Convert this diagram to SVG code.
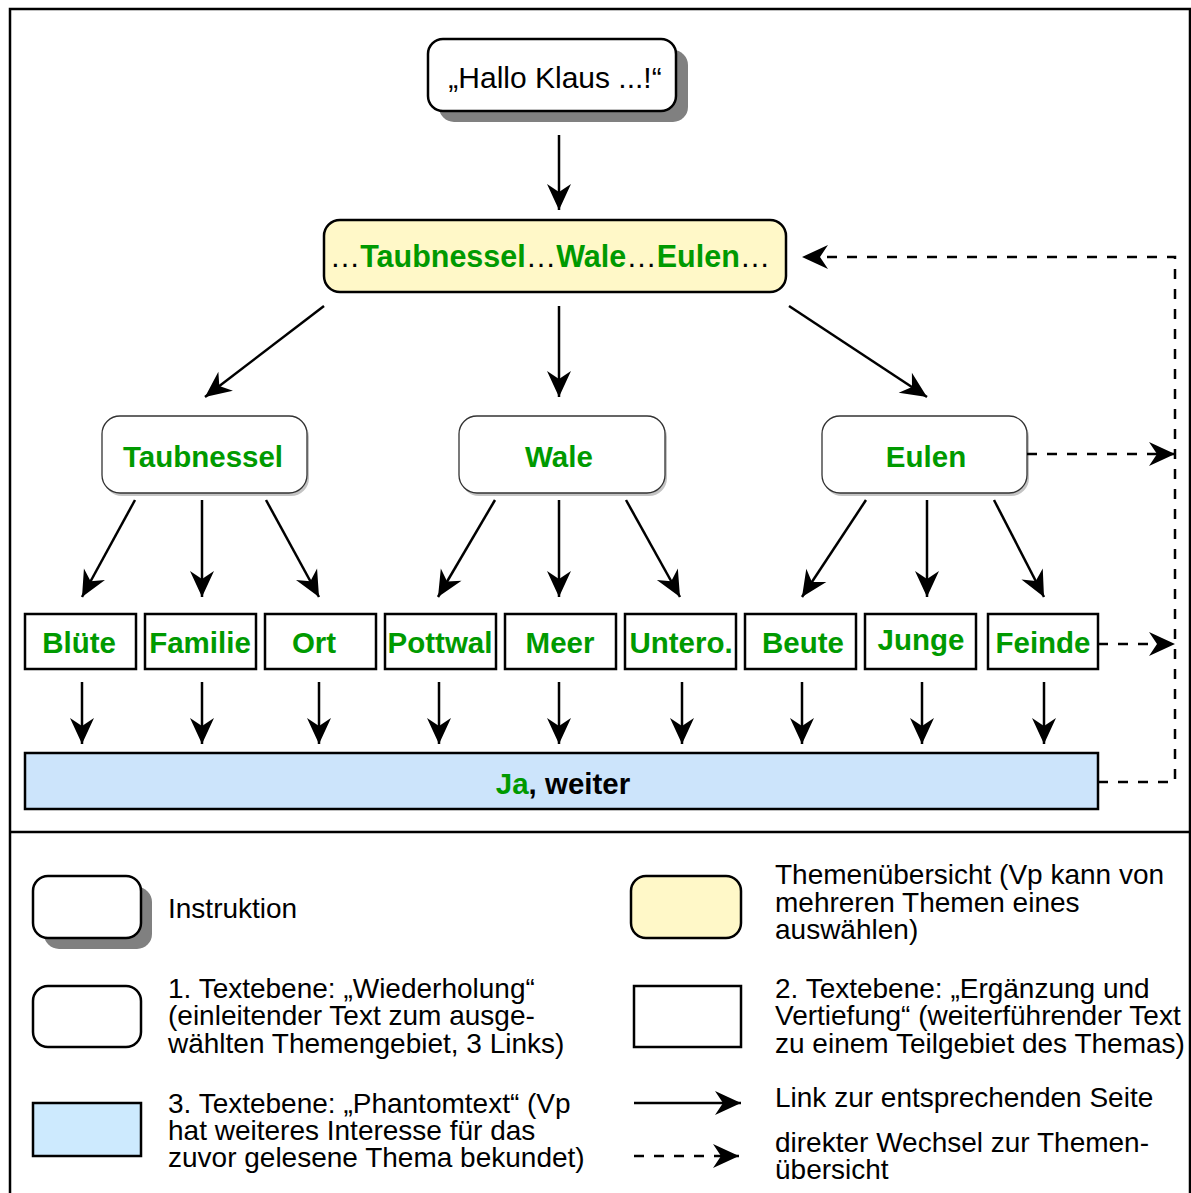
<svg xmlns="http://www.w3.org/2000/svg" width="1191" height="1193" viewBox="0 0 1191 1193">
<style>
text{font-family:"Liberation Sans",Arial,Helvetica,sans-serif}
.lbl{font-size:29.5px;font-weight:bold;fill:#009a00;text-anchor:middle}
.blk{fill:#000}
.leg{font-size:28px;fill:#000}
.ln{stroke:#000;stroke-width:2.5;fill:none}
.dash{stroke:#000;stroke-width:2.5;fill:none;stroke-dasharray:10 10}
.box3{fill:#fff;stroke:#000;stroke-width:2.5}
.box2{fill:#fff;stroke:#333;stroke-width:1.3}
.shd2{fill:#c4c4c4}
</style>
<defs>
<marker id="ah" markerUnits="userSpaceOnUse" markerWidth="30" markerHeight="26" refX="26" refY="12" orient="auto" overflow="visible">
<path d="M0,0 L26,12 L0,24 L8,12 Z" fill="#000"/>
</marker>
</defs>
<rect width="1191" height="1193" fill="#fff"/>
<rect x="10" y="9" width="1180" height="1190" fill="none" stroke="#000" stroke-width="2.5"/>
<line x1="10" y1="832" x2="1190" y2="832" stroke="#000" stroke-width="2.5"/>

<g id="n-hallo">
<rect x="439" y="50" width="249" height="72" rx="15" fill="#808080"/>
<rect x="428" y="39" width="248" height="72" rx="15" fill="#fff" stroke="#000" stroke-width="2.5"/>
<text x="555" y="88" style="font-size:30px;text-anchor:middle">„Hallo Klaus ...!“</text>
</g>

<g id="n-uebersicht">
<rect x="324" y="220" width="462" height="72" rx="16" fill="#fff8c8" stroke="#000" stroke-width="2.5"/>
<text x="550" y="267" class="lbl" style="font-size:30.5px"><tspan class="blk" font-weight="normal">…</tspan>Taubnessel<tspan class="blk" font-weight="normal">…</tspan>Wale<tspan class="blk" font-weight="normal">…</tspan>Eulen<tspan class="blk" font-weight="normal">…</tspan></text>
</g>

<g id="n-taubnessel">
<rect x="104" y="419" width="205" height="77" rx="18" class="shd2"/>
<rect x="102" y="416" width="205" height="77" rx="18" class="box2"/>
<text x="203" y="467" class="lbl">Taubnessel</text>
</g>
<g id="n-wale">
<rect x="461" y="419" width="206" height="77" rx="18" class="shd2"/>
<rect x="459" y="416" width="206" height="77" rx="18" class="box2"/>
<text x="559" y="467" class="lbl">Wale</text>
</g>
<g id="n-eulen">
<rect x="824" y="419" width="205" height="77" rx="18" class="shd2"/>
<rect x="822" y="416" width="205" height="77" rx="18" class="box2"/>
<text x="926" y="467" class="lbl">Eulen</text>
</g>

<g id="n-bluete"><rect x="25" y="614" width="111" height="55" class="box3"/><text x="79" y="653" class="lbl">Blüte</text></g>
<g id="n-familie"><rect x="145" y="614" width="111" height="55" class="box3"/><text x="200" y="653" class="lbl">Familie</text></g>
<g id="n-ort"><rect x="265" y="614" width="111" height="55" class="box3"/><text x="314" y="653" class="lbl">Ort</text></g>
<g id="n-pottwal"><rect x="385" y="614" width="111" height="55" class="box3"/><text x="440" y="653" class="lbl">Pottwal</text></g>
<g id="n-meer"><rect x="505" y="614" width="111" height="55" class="box3"/><text x="560" y="653" class="lbl">Meer</text></g>
<g id="n-untero"><rect x="625" y="614" width="111" height="55" class="box3"/><text x="681" y="653" class="lbl">Untero.</text></g>
<g id="n-beute"><rect x="745" y="614" width="111" height="55" class="box3"/><text x="803" y="653" class="lbl">Beute</text></g>
<g id="n-junge"><rect x="865" y="614" width="111" height="55" class="box3"/><text x="921" y="650" class="lbl">Junge</text></g>
<g id="n-feinde"><rect x="988" y="614" width="110" height="55" class="box3"/><text x="1043" y="653" class="lbl">Feinde</text></g>

<g id="n-ja">
<rect x="25" y="753" width="1073" height="56" fill="#cce4fb" stroke="#000" stroke-width="2.5"/>
<text x="563" y="794" class="lbl">Ja<tspan class="blk">, weiter</tspan></text>
</g>

<g id="connectors">
<path class="ln" marker-end="url(#ah)" d="M559,135 V210"/>
<path class="ln" marker-end="url(#ah)" d="M324,306 L205,397"/>
<path class="ln" marker-end="url(#ah)" d="M559,306 V397"/>
<path class="ln" marker-end="url(#ah)" d="M789,306 L927,397"/>
<path class="ln" marker-end="url(#ah)" d="M135,500 L82,597"/>
<path class="ln" marker-end="url(#ah)" d="M202,500 V597"/>
<path class="ln" marker-end="url(#ah)" d="M266,500 L319,597"/>
<path class="ln" marker-end="url(#ah)" d="M495,500 L438,597"/>
<path class="ln" marker-end="url(#ah)" d="M559,500 V597"/>
<path class="ln" marker-end="url(#ah)" d="M626,500 L680,597"/>
<path class="ln" marker-end="url(#ah)" d="M866,500 L802,597"/>
<path class="ln" marker-end="url(#ah)" d="M927,500 V597"/>
<path class="ln" marker-end="url(#ah)" d="M994,500 L1044,597"/>
<path class="ln" marker-end="url(#ah)" d="M82,682 V744"/>
<path class="ln" marker-end="url(#ah)" d="M202,682 V744"/>
<path class="ln" marker-end="url(#ah)" d="M319,682 V744"/>
<path class="ln" marker-end="url(#ah)" d="M439,682 V744"/>
<path class="ln" marker-end="url(#ah)" d="M559,682 V744"/>
<path class="ln" marker-end="url(#ah)" d="M682,682 V744"/>
<path class="ln" marker-end="url(#ah)" d="M802,682 V744"/>
<path class="ln" marker-end="url(#ah)" d="M922,682 V744"/>
<path class="ln" marker-end="url(#ah)" d="M1044,682 V744"/>
<path class="dash" marker-end="url(#ah)" d="M1098,782 H1175 V257 H802"/>
<path class="dash" marker-end="url(#ah)" d="M1027,454 H1175"/>
<path class="dash" marker-end="url(#ah)" d="M1098,644 H1175"/>
</g>

<g id="legend">
<rect x="44" y="887" width="108" height="62" rx="15" fill="#808080"/>
<rect x="33" y="876" width="108" height="62" rx="15" fill="#fff" stroke="#000" stroke-width="2.5"/>
<text x="168" y="918" class="leg">Instruktion</text>

<rect x="33" y="986" width="108" height="61" rx="15" fill="#fff" stroke="#000" stroke-width="2.5"/>
<text class="leg"><tspan x="168" y="998">1. Textebene: „Wiederholung“</tspan><tspan x="168" y="1025">(einleitender Text zum ausge-</tspan><tspan x="168" y="1053">wählten Themengebiet, 3 Links)</tspan></text>

<rect x="33" y="1103" width="108" height="53" fill="#cdeafe" stroke="#000" stroke-width="2.5"/>
<text class="leg"><tspan x="168" y="1113">3. Textebene: „Phantomtext“ (Vp</tspan><tspan x="168" y="1140">hat weiteres Interesse für das</tspan><tspan x="168" y="1167">zuvor gelesene Thema bekundet)</tspan></text>

<rect x="631" y="876" width="110" height="62" rx="15" fill="#fff8c8" stroke="#000" stroke-width="2.5"/>
<text class="leg"><tspan x="775" y="884">Themenübersicht (Vp kann von</tspan><tspan x="775" y="912">mehreren Themen eines</tspan><tspan x="775" y="939">auswählen)</tspan></text>

<rect x="634" y="986" width="107" height="61" fill="#fff" stroke="#000" stroke-width="2.5"/>
<text class="leg"><tspan x="775" y="998">2. Textebene: „Ergänzung und</tspan><tspan x="775" y="1025">Vertiefung“ (weiterführender Text</tspan><tspan x="775" y="1053">zu einem Teilgebiet des Themas)</tspan></text>

<path class="ln" marker-end="url(#ah)" d="M634,1103 H741"/>
<text x="775" y="1107" class="leg">Link zur entsprechenden Seite</text>

<path class="dash" marker-end="url(#ah)" d="M634,1156 H739"/>
<text class="leg"><tspan x="775" y="1152">direkter Wechsel zur Themen-</tspan><tspan x="775" y="1179">übersicht</tspan></text>
</g>
</svg>
